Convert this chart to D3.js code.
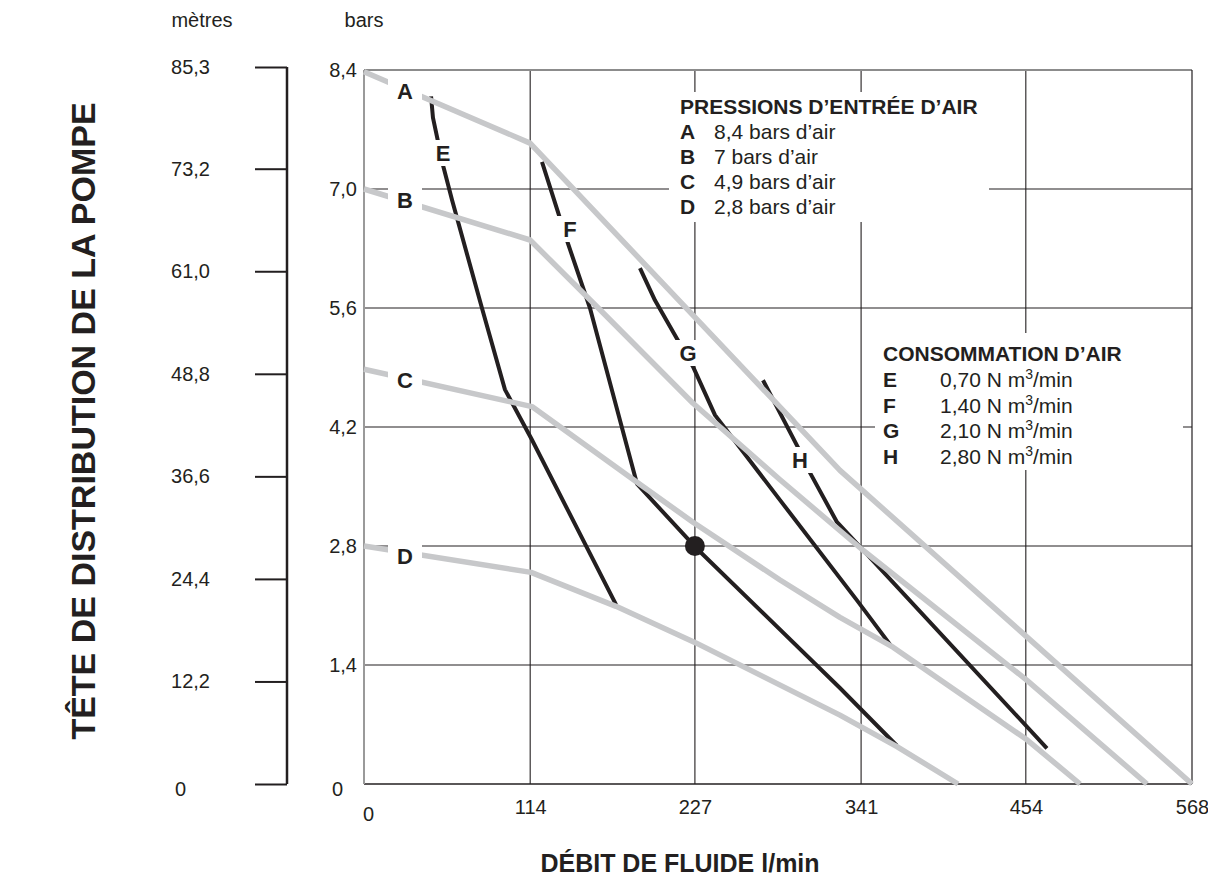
<!DOCTYPE html>
<html>
<head>
<meta charset="utf-8">
<script src="https://cdn.jsdelivr.net/npm/d3@7"></script>
<style>
  html, body { margin: 0; padding: 0; background: #fff; }
  svg { display: block; font-family: "Liberation Sans", Arial, Helvetica, sans-serif; }
</style>
</head>
<body>
<svg id="chart" width="1208" height="888"></svg>
<script>
// ---------------- DATA ----------------
const xTicks = [0, 114, 227, 341, 454, 568];            // l/min
const barTicks = [0, 1.4, 2.8, 4.2, 5.6, 7.0, 8.4];      // bars
const meterTicks = [0, 12.2, 24.4, 36.6, 48.8, 61.0, 73.2, 85.3]; // mètres

// Air inlet pressure curves (grey) : [flow l/min, head bars]
const curveA = [[0, 8.38], [113.9, 7.54], [326.5, 3.69], [568, 0]];
const curveB = [[0, 7.0], [113.9, 6.40], [161.9, 5.58], [225.7, 4.48], [285.4, 3.58], [342.3, 2.75], [454.8, 1.22], [537.1, 0]];
const curveC = [[0, 4.88], [115.2, 4.44], [187.3, 3.55], [225.7, 3.08], [285.4, 2.40], [326.5, 1.96], [362.9, 1.61], [454.8, 0.52], [491.2, 0]];
const curveD = [[0, 2.80], [114.6, 2.49], [172.9, 2.09], [227.7, 1.66], [326.5, 0.81], [365.6, 0.44], [407.5, 0]];

// Air consumption curves (black)
const curveE = [[46.0, 8.09], [47.3, 7.84], [54.2, 7.28], [60.4, 6.87], [80.9, 5.60], [96.7, 4.64], [115.2, 4.05], [172.9, 2.11]];
const curveF = [[122.1, 7.32], [139.9, 6.36], [155.0, 5.60], [187.3, 3.53], [227.7, 2.78], [326.5, 1.13], [365.6, 0.45]];
const curveG = [[189.3, 6.07], [199.6, 5.69], [225.7, 4.91], [240.8, 4.34], [285.4, 3.34], [338.2, 2.16], [362.2, 1.61]];
const curveH = [[273.7, 4.75], [297.7, 3.96], [306.0, 3.66], [324.5, 3.08], [340.3, 2.79], [468.5, 0.42]];

const operatingPoint = [227, 2.8];

const pressureKeys = ["A", "B", "C", "D"];
const pressureLabels = ["8,4 bars d’air", "7 bars d’air", "4,9 bars d’air", "2,8 bars d’air"];
const airKeys = ["E", "F", "G", "H"];
const airLabels = ["0,70", "1,40", "2,10", "2,80"];

// ---------------- LAYOUT ----------------
const svg = d3.select("#chart");
const X0 = 364, X1 = 1192, Y0 = 784, Y1 = 70;
const x = d3.scaleLinear().domain([0, 568]).range([X0, X1]);
const y = d3.scaleLinear().domain([0, 8.4]).range([Y0, Y1]);
const m = d3.scaleLinear().domain([0, 85.3]).range([Y0, 67]);

const BLACK = "#231f20", GREY = "#c7c8ca";
const fmt = d => d === 0 ? "0" : d.toFixed(1).replace(".", ",");

// gridlines
svg.append("g").selectAll("line").data(barTicks.filter(v => v > 0 && v < 8.4)).join("line")
  .attr("x1", X0).attr("x2", X1).attr("y1", d => y(d)).attr("y2", d => y(d))
  .attr("stroke", BLACK).attr("stroke-width", 1.1);
svg.append("g").selectAll("line").data(xTicks.filter(v => v > 0 && v < 568)).join("line")
  .attr("x1", d => x(d)).attr("x2", d => x(d)).attr("y1", Y1).attr("y2", Y0)
  .attr("stroke", BLACK).attr("stroke-width", 1.1);

// frame
svg.append("line").attr("x1", X0).attr("x2", X1).attr("y1", Y1).attr("y2", Y1).attr("stroke", "#8c8c8c").attr("stroke-width", 2);
svg.append("line").attr("x1", X1).attr("x2", X1).attr("y1", Y1).attr("y2", Y0).attr("stroke", BLACK).attr("stroke-width", 1.2);
svg.append("line").attr("x1", X0).attr("x2", X1).attr("y1", Y0).attr("y2", Y0).attr("stroke", BLACK).attr("stroke-width", 1.6);
svg.append("line").attr("x1", X0).attr("x2", X0).attr("y1", Y1).attr("y2", Y0).attr("stroke", "#9a9a9a").attr("stroke-width", 2);

// curves
const line = d3.line().x(d => x(d[0])).y(d => y(d[1]));
svg.append("g").selectAll("path").data([curveE, curveF, curveG, curveH]).join("path")
  .attr("d", line).attr("fill", "none").attr("stroke", BLACK).attr("stroke-width", 4)
  .attr("stroke-linejoin", "round");
svg.append("g").selectAll("path").data([curveA, curveB, curveC, curveD]).join("path")
  .attr("d", line).attr("fill", "none").attr("stroke", GREY).attr("stroke-width", 5.5)
  .attr("stroke-linejoin", "round");

svg.append("circle").attr("cx", x(operatingPoint[0])).attr("cy", y(operatingPoint[1]))
  .attr("r", 10).attr("fill", BLACK);

// curve letter labels (white boxes break the lines)
const curveLetters = [
  { t: "A", cx: 405, cy: 91, w: 34, h: 26 },
  { t: "B", cx: 405, cy: 200, w: 34, h: 26 },
  { t: "C", cx: 405, cy: 380, w: 34, h: 26 },
  { t: "D", cx: 405, cy: 556, w: 34, h: 26 },
  { t: "E", cx: 443, cy: 153, w: 24, h: 26 },
  { t: "F", cx: 570, cy: 229, w: 26, h: 26 },
  { t: "G", cx: 688, cy: 353, w: 28, h: 26 },
  { t: "H", cx: 800, cy: 460, w: 28, h: 26 }
];
const lg = svg.append("g").selectAll("g").data(curveLetters).join("g");
lg.append("rect").attr("x", d => d.cx - d.w / 2).attr("y", d => d.cy - d.h / 2)
  .attr("width", d => d.w).attr("height", d => d.h).attr("fill", "#fff");
lg.append("text").attr("x", d => d.cx).attr("y", d => d.cy + 8)
  .attr("text-anchor", "middle").attr("font-weight", "bold").attr("font-size", 22)
  .attr("fill", BLACK).text(d => d.t);

// legend 1
svg.append("rect").attr("x", 669).attr("y", 92).attr("width", 320).attr("height", 130).attr("fill", "#fff");
const leg1 = svg.append("g").attr("fill", BLACK).attr("font-size", 21);
leg1.append("text").attr("x", 680).attr("y", 114).attr("font-weight", "bold").text("PRESSIONS D’ENTRÉE D’AIR");
pressureKeys.forEach((k, i) => {
  const by = 139 + i * 25;
  leg1.append("text").attr("x", 680).attr("y", by).attr("font-weight", "bold").text(k);
  leg1.append("text").attr("x", 714).attr("y", by).text(pressureLabels[i]);
});

// legend 2
svg.append("rect").attr("x", 875).attr("y", 333).attr("width", 308).attr("height", 137).attr("fill", "#fff");
const leg2 = svg.append("g").attr("fill", BLACK).attr("font-size", 21);
leg2.append("text").attr("x", 883).attr("y", 361).attr("font-weight", "bold").text("CONSOMMATION D’AIR");
airKeys.forEach((k, i) => {
  const by = 387 + i * 25.5;
  leg2.append("text").attr("x", 883).attr("y", by).attr("font-weight", "bold").text(k);
  const t = leg2.append("text").attr("x", 940).attr("y", by);
  t.append("tspan").text(airLabels[i] + " N m");
  t.append("tspan").attr("dy", -8).attr("font-size", 14).text("3");
  t.append("tspan").attr("dy", 8).text("/min");
});

// bars axis (labels only)
const barAxis = d3.axisLeft(y).tickValues(barTicks).tickFormat(fmt).tickSize(0).tickPadding(7);
const gb = svg.append("g").attr("transform", `translate(${X0},0)`).call(barAxis);
gb.select(".domain").remove();
gb.selectAll("text").attr("font-size", 20).attr("fill", BLACK).attr("font-family", null)
  .attr("dx", d => d === 0 ? -14 : 0).attr("dy", d => d === 0 ? "0.55em" : "0.32em");

// meters axis
const meterAxis = d3.axisLeft(m).tickValues(meterTicks).tickFormat(fmt).tickSize(32).tickPadding(45);
const gm = svg.append("g").attr("transform", "translate(287,0)").call(meterAxis);
gm.select(".domain").attr("stroke", BLACK).attr("stroke-width", 2.5).attr("d", `M0,${m(85.3)}V${m(0)}`);
gm.selectAll(".tick line").attr("stroke", BLACK).attr("stroke-width", 2);
gm.selectAll("text").attr("font-size", 20).attr("fill", BLACK).attr("font-family", null)
  .attr("dx", d => d === 0 ? -24 : 0).attr("dy", d => d === 0 ? "0.55em" : "0.32em");

// x axis
const xAxis = d3.axisBottom(x).tickValues(xTicks).tickFormat(d3.format("d")).tickSize(0).tickPadding(16);
const gx = svg.append("g").attr("transform", `translate(0,${Y0})`).call(xAxis);
gx.select(".domain").remove();
gx.selectAll("text").attr("font-size", 20).attr("fill", BLACK).attr("font-family", null)
  .attr("dx", d => d === 0 ? 4 : 0).attr("dy", d => d === 0 ? "1.05em" : "0.71em");

// unit labels
svg.append("text").attr("x", 202).attr("y", 27).attr("text-anchor", "middle").attr("font-size", 20).attr("fill", BLACK).text("mètres");
svg.append("text").attr("x", 364).attr("y", 27).attr("text-anchor", "middle").attr("font-size", 20).attr("fill", BLACK).text("bars");

// axis titles
svg.append("text").attr("x", 680).attr("y", 872).attr("text-anchor", "middle")
  .attr("font-size", 25).attr("font-weight", "bold").attr("fill", BLACK).text("DÉBIT DE FLUIDE l/min");
svg.append("text").attr("transform", "translate(95,421) rotate(-90)").attr("text-anchor", "middle")
  .attr("font-size", 34).attr("font-weight", "bold").attr("fill", BLACK).text("TÊTE DE DISTRIBUTION DE LA POMPE");
</script>
</body>
</html>
